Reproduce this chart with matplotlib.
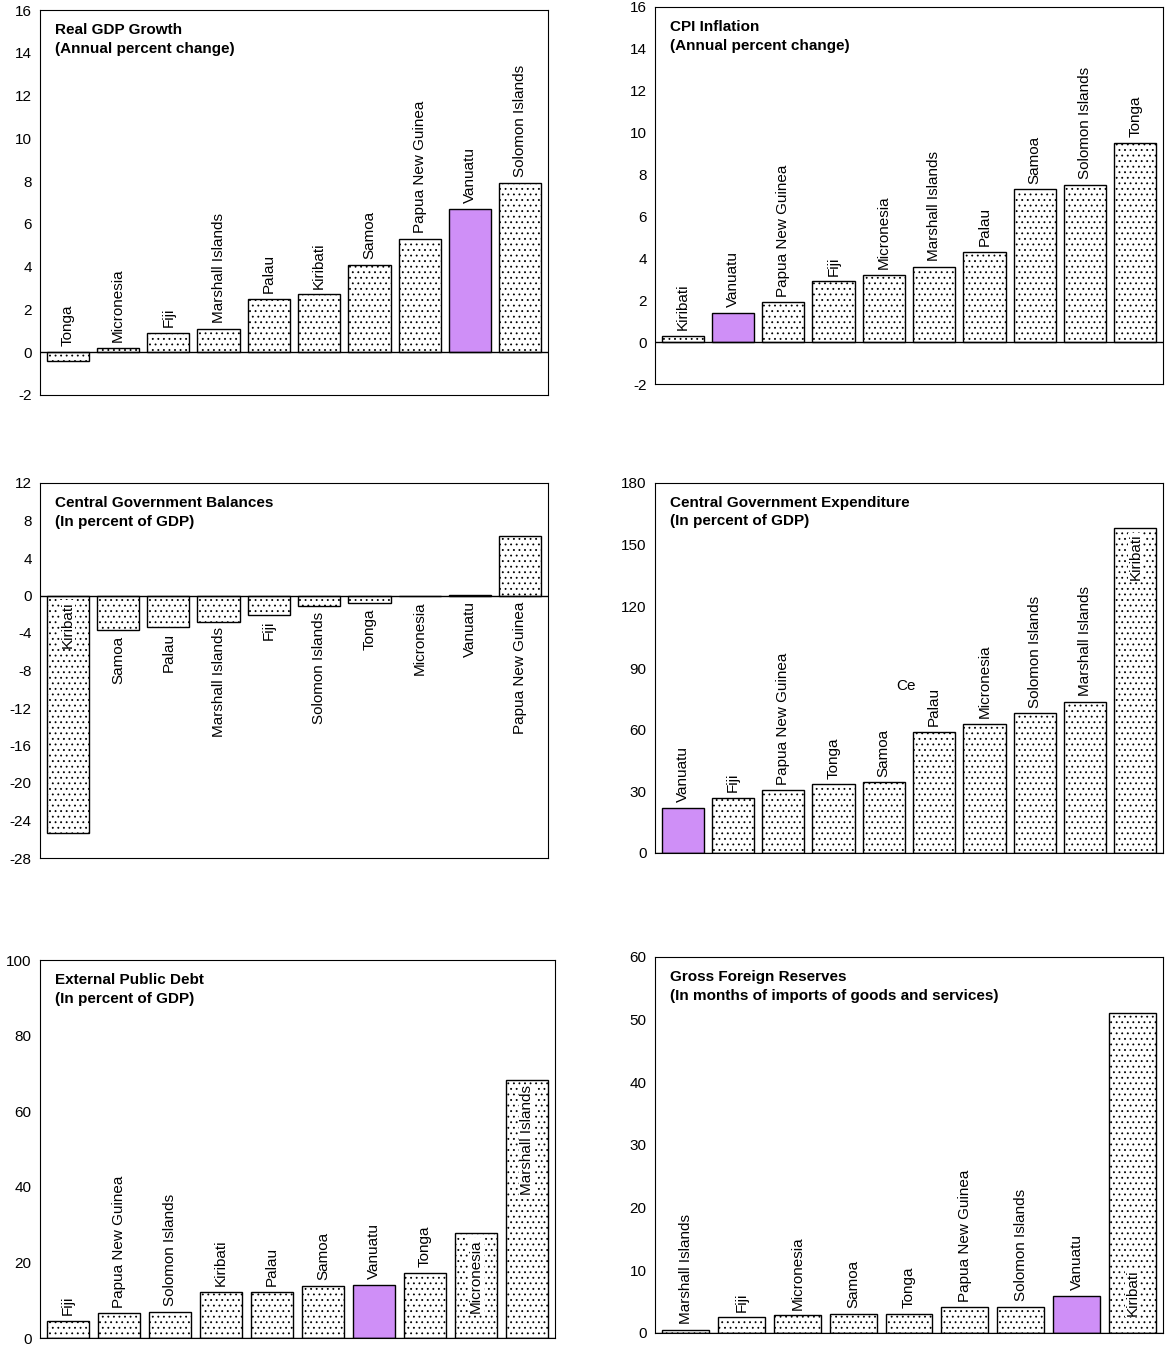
import matplotlib.pyplot as plt

plt.rcParams['font.family'] = ['Liberation Sans', 'DejaVu Sans']
plt.rcParams['hatch.linewidth'] = 0.6
plt.rcParams['axes.unicode_minus'] = False

PURPLE = '#cf8ff7'

gdp_names = ['Tonga', 'Micronesia', 'Fiji', 'Marshall Islands', 'Palau', 'Kiribati',
             'Samoa', 'Papua New Guinea', 'Vanuatu', 'Solomon Islands']
gdp_vals = [-0.4, 0.2, 0.9, 1.1, 2.5, 2.7, 4.1, 5.3, 6.7, 7.9]

cpi_names = ['Kiribati', 'Vanuatu', 'Papua New Guinea', 'Fiji', 'Micronesia',
             'Marshall Islands', 'Palau', 'Samoa', 'Solomon Islands', 'Tonga']
cpi_vals = [0.3, 1.4, 1.9, 2.9, 3.2, 3.6, 4.3, 7.3, 7.5, 9.5]

bal_names = ['Kiribati', 'Samoa', 'Palau', 'Marshall Islands', 'Fiji', 'Solomon Islands',
             'Tonga', 'Micronesia', 'Vanuatu', 'Papua New Guinea']
bal_vals = [-25.3, -3.7, -3.4, -2.8, -2.1, -1.1, -0.8, 0.0, 0.1, 6.3]

exp_names = ['Vanuatu', 'Fiji', 'Papua New Guinea', 'Tonga', 'Samoa', 'Palau',
             'Micronesia', 'Solomon Islands', 'Marshall Islands', 'Kiribati']
exp_vals = [22, 27, 30.5, 33.5, 34.5, 59, 63, 68, 73.5, 158]

debt_names = ['Fiji', 'Papua New Guinea', 'Solomon Islands', 'Kiribati', 'Palau', 'Samoa',
              'Vanuatu', 'Tonga', 'Micronesia', 'Marshall Islands']
debt_vals = [4.5, 6.5, 7.0, 12.2, 12.2, 13.8, 14.0, 17.3, 27.7, 68.3]

res_names = ['Marshall Islands', 'Fiji', 'Micronesia', 'Samoa', 'Tonga', 'Papua New Guinea',
             'Solomon Islands', 'Vanuatu', 'Kiribati']
res_vals = [0.5, 2.5, 2.8, 3.1, 3.1, 4.1, 4.2, 5.9, 51.0]

W, H = 1167, 1345
fig = plt.figure(figsize=(W / 100, H / 100), dpi=100)


def panel(rect, names, vals, title, ylim, step, mode, special=None):
    l, t, r, b = rect
    ax = fig.add_axes([l / W, 1 - b / H, (r - l) / W, (b - t) / H])
    n = len(names)
    x = list(range(n))
    colors = [PURPLE if nm == 'Vanuatu' else 'white' for nm in names]
    bars = ax.bar(x, vals, width=0.84, color=colors, edgecolor='black', linewidth=1.0)
    for bar, c in zip(bars, colors):
        if c == 'white':
            bar.set_hatch('...')
    ax.axhline(0, color='black', linewidth=1.0)
    ax.set_xlim(-0.55, n - 0.45)
    ax.set_ylim(*ylim)
    ax.set_yticks(range(ylim[0], ylim[1] + 1, step))
    ax.set_xticks([])
    ax.tick_params(axis='y', labelsize=11, length=0, pad=6)
    span = ylim[1] - ylim[0]
    special = special or {}
    for i, (nm, v) in enumerate(zip(names, vals)):
        m = special.get(nm, mode)
        off = span * 0.015
        if m == 'above':
            y, va = max(v, 0) + off, 'bottom'
        elif m == 'below':
            y, va = min(v, 0) - off, 'top'
        elif m == 'inside_zero':
            y, va = -off, 'top'
        elif m == 'inside_top':
            y, va = v - off, 'top'
        else:
            y, va = off * 3, 'bottom'
        bbox = dict(facecolor='white', edgecolor='none', pad=0.5) if m.startswith('inside') else None
        ax.text(i, y, nm, rotation=90, ha='center', va=va, fontsize=11, bbox=bbox)
    ax.text(0.03, 0.965, title, transform=ax.transAxes, ha='left', va='top',
            fontsize=11, fontweight='bold', linespacing=1.4)
    return ax


panel((40, 10, 548, 395), gdp_names, gdp_vals,
      'Real GDP Growth\n(Annual percent change)', (-2, 16), 2, 'above')
panel((655, 7, 1163, 384), cpi_names, cpi_vals,
      'CPI Inflation\n(Annual percent change)', (-2, 16), 2, 'above')
panel((40, 483, 548, 858), bal_names, bal_vals,
      'Central Government Balances\n(In percent of GDP)', (-28, 12), 4, 'below',
      {'Kiribati': 'inside_zero'})
ax4 = panel((655, 483, 1163, 853), exp_names, exp_vals,
            'Central Government Expenditure\n(In percent of GDP)', (0, 180), 30, 'above',
            {'Kiribati': 'inside_top'})
ax4.text(4.45, 81, 'Ce', ha='center', va='center', fontsize=11)
panel((40, 960, 555, 1338), debt_names, debt_vals,
      'External Public Debt\n(In percent of GDP)', (0, 100), 20, 'above',
      {'Micronesia': 'inside_top', 'Marshall Islands': 'inside_top'})
panel((655, 957, 1163, 1333), res_names, res_vals,
      'Gross Foreign Reserves\n(In months of imports of goods and services)', (0, 60), 10, 'above',
      {'Kiribati': 'inside_bottom'})

fig.savefig('out.png', dpi=100)
